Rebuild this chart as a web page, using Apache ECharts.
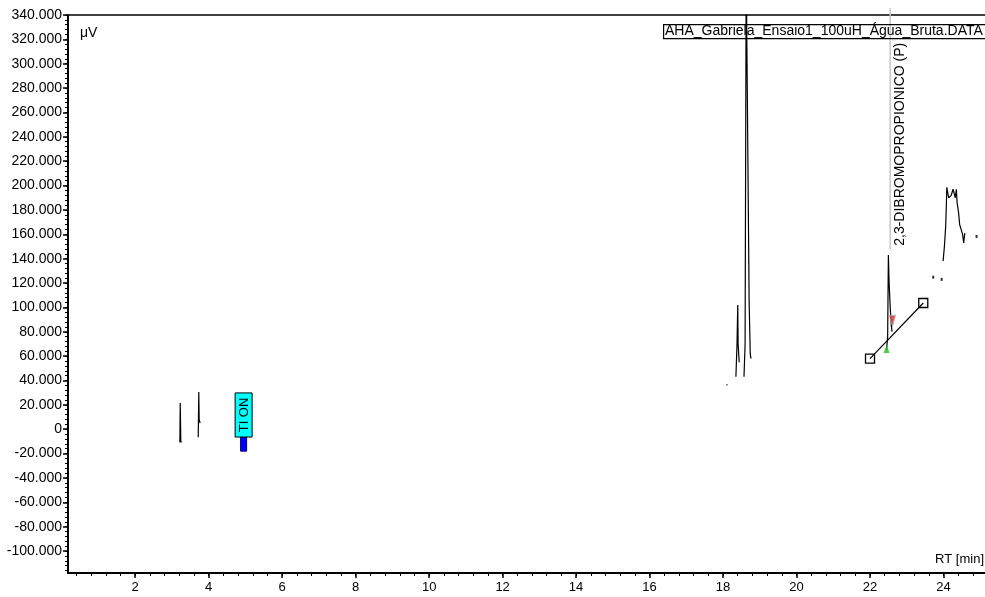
<!DOCTYPE html>
<html>
<head>
<meta charset="utf-8">
<script src="https://cdn.jsdelivr.net/npm/echarts@6/dist/echarts.min.js"></script>
<style>html,body{margin:0;padding:0;background:#fff}#c{width:985px;height:597px}</style>
</head>
<body>
<div id="c"></div>
<script>
// ---- data ----
var xTickLabels = [2, 4, 6, 8, 10, 12, 14, 16, 18, 20, 22, 24];
var yTickLabels = [-100000, -80000, -60000, -40000, -20000, 0, 20000, 40000, 60000, 80000, 100000, 120000, 140000, 160000, 180000, 200000, 220000, 240000, 260000, 280000, 300000, 320000, 340000];
var traceTime  = [3.215, 3.225, 3.24, 3.25, null, 3.715, 3.73, 3.74, 3.765, null, 18.10, 18.115, null, 18.35, 18.38, 18.40, 18.41, 18.44, null, 18.57, 18.60, 18.63, 18.67, 18.71, 18.74, 18.76, null, 22.45, 22.48, 22.50, 22.52, 22.55, 22.58, 22.60, null, 23.99, 24.03, 24.06, 24.08, 24.09, 24.14, 24.21, 24.26, 24.32, 24.35, 24.37, 24.41, 24.44, 24.48, 24.52, 24.55, 24.58];
var traceValue = [-10700, 21500, -9000, -11000, null, -6600, 30500, 8000, 5000, null, 36000, 37000, null, 43000, 70000, 102000, 70000, 55000, null, 43000, 70000, 380000, 380000, 105000, 62000, 58000, null, 65000, 76000, 143000, 120000, 100000, 85000, 80000, null, 138000, 152000, 167000, 186000, 198600, 190000, 192000, 197000, 190000, 197000, 186000, 178000, 168000, 164000, 160000, 153000, 161000];
var dotTime  = [23.72, 23.95, 24.90];
var dotValue = [124800, 123000, 158200];
var baselineTime  = [22.0, 23.45];
var baselineValue = [58000, 103600];
var peakStartMarker = [22.45, 65800];
var peakEndMarker = [22.61, 88800];
var eventTime = 4.95, eventLabel = 'TI ON', eventTop = 29800, eventBottom = -6400, eventBarBottom = -18000;
var peakName = '2,3-DIBROMOPROPIONICO (P)', peakTime = 22.55, peakLabelValue = 147300;
var fileName = 'AHA_Gabriela_Ensaio1_100uH_Água_Bruta.DATA';

// ---- helpers ----
var X_MIN = 0.17, X_MAX = 25.13, Y_MIN = -118000, Y_MAX = 340000;
function fmtY(v){
  if (v === 0) return '0';
  var s = String(Math.abs(v)).replace(/\B(?=(\d{3})+(?!\d))/g, '.');
  return (v < 0 ? '-' : '') + s;
}
var xMinor = []; for (var t = 0.4; t < X_MAX; t += 0.4) xMinor.push(Math.round(t*10)/10);
var yMinor = []; for (var v = -116000; v <= Y_MAX; v += 4000) yMinor.push(v);

var traceData = traceTime.map(function(t, i){ return t === null ? null : [t, traceValue[i]]; });
var dotData = dotTime.map(function(t, i){ return [t, dotValue[i]]; });
var baselineData = baselineTime.map(function(t, i){ return [t, baselineValue[i]]; });

var FONT = 'Liberation Sans, Arial, sans-serif';
var chart = echarts.init(document.getElementById('c'), null, {renderer: 'canvas'});
chart.setOption({
  animation: false,
  backgroundColor: '#fff',
  grid: {left: 68, right: -4, top: 15, bottom: 24, show: false},
  xAxis: [{
    type: 'value', min: X_MIN, max: X_MAX, position: 'bottom',
    axisLine: {show: true, onZero: false, lineStyle: {color: '#000', width: 2}},
    axisTick: {show: true, customValues: xTickLabels, length: 5, lineStyle: {color: '#000', width: 1.5}},
    axisLabel: {customValues: xTickLabels, color: '#000', fontSize: 13, fontFamily: FONT, margin: 8},
    splitLine: {show: false}
  }, {
    type: 'value', min: X_MIN, max: X_MAX, position: 'bottom',
    axisLine: {show: false, onZero: false},
    axisTick: {show: true, customValues: xMinor, length: 3, lineStyle: {color: '#000', width: 1}},
    axisLabel: {show: false}, splitLine: {show: false}
  }, {
    type: 'value', min: X_MIN, max: X_MAX, position: 'top',
    axisLine: {show: true, onZero: false, lineStyle: {color: '#000', width: 1.5}},
    axisTick: {show: false}, axisLabel: {show: false}, splitLine: {show: false}
  }],
  yAxis: [{
    type: 'value', min: Y_MIN, max: Y_MAX, position: 'left',
    axisLine: {show: true, onZero: false, lineStyle: {color: '#000', width: 2}},
    axisTick: {show: true, customValues: yTickLabels, length: 5, lineStyle: {color: '#000', width: 1.5}},
    axisLabel: {customValues: yTickLabels, color: '#000', fontSize: 14, fontFamily: FONT, margin: 6, formatter: fmtY},
    splitLine: {show: false}
  }, {
    type: 'value', min: Y_MIN, max: Y_MAX, position: 'left',
    axisLine: {show: false, onZero: false},
    axisTick: {show: true, customValues: yMinor, length: 3, lineStyle: {color: '#000', width: 1}},
    axisLabel: {show: false}, splitLine: {show: false}
  }],
  series: [
    {
      type: 'line', data: traceData, showSymbol: false, connectNulls: false,
      lineStyle: {color: '#000', width: 1.2}, clip: true, z: 3
    },
    {
      type: 'scatter', data: dotData, symbol: 'rect', symbolSize: [2, 3],
      itemStyle: {color: '#000'}, z: 3
    },
    {
      type: 'line', data: baselineData, symbol: 'rect', symbolSize: 9, showSymbol: true,
      lineStyle: {color: '#000', width: 1.2},
      itemStyle: {color: 'rgba(255,255,255,0)', borderColor: '#000', borderWidth: 1.3}, z: 4
    },
    {
      type: 'scatter', data: [peakStartMarker], symbol: 'triangle', symbolSize: [6, 8],
      itemStyle: {color: '#22c022'}, z: 5
    },
    {
      type: 'scatter', data: [peakEndMarker], symbol: 'triangle', symbolRotate: 180, symbolSize: [6, 11],
      itemStyle: {color: '#ee2222', borderColor: '#aaa', borderWidth: 1}, z: 5
    },
    {
      type: 'custom', clip: false, z: 6,
      data: [[eventTime, eventTop, eventBottom, eventBarBottom]],
      renderItem: function(params, api){
        var top = api.coord([api.value(0), api.value(1)]);
        var bot = api.coord([api.value(0), api.value(2)]);
        var bar = api.coord([api.value(0), api.value(3)]);
        var w = 17, bw = 6;
        return {type: 'group', children: [
          {type: 'rect', shape: {x: top[0] - bw/2, y: bot[1], width: bw, height: bar[1] - bot[1]},
           style: {fill: '#0000ee', stroke: '#000080', lineWidth: 1}},
          {type: 'rect', shape: {x: top[0] - w/2, y: top[1], width: w, height: bot[1] - top[1]},
           style: {fill: '#00ffff', stroke: '#000', lineWidth: 1}},
          {type: 'text', x: top[0] + 0.5, y: (top[1] + bot[1]) / 2, rotation: Math.PI / 2,
           style: {text: eventLabel, fill: '#000', font: '13px ' + FONT, align: 'center', verticalAlign: 'middle'}}
        ]};
      }
    },
    {
      type: 'custom', clip: false, z: 2,
      data: [[peakTime, peakLabelValue]],
      renderItem: function(params, api){
        var p = api.coord([api.value(0), api.value(1)]);
        var topY = api.coord([api.value(0), Y_MAX])[1] - 7;
        return {type: 'group', children: [
          {type: 'line', shape: {x1: p[0], y1: p[1], x2: p[0], y2: topY}, style: {stroke: '#c8c8c8', lineWidth: 1.5}},
          {type: 'text', x: p[0] + 10, y: p[1] - 4, rotation: Math.PI / 2,
           style: {text: peakName, fill: '#000', font: '14px ' + FONT, align: 'left', verticalAlign: 'middle'}}
        ]};
      }
    }
  ],
  graphic: [
    {type: 'rect', left: 663, top: 24, shape: {x: 0, y: 0, width: 330, height: 14}, z: 10,
     style: {fill: 'rgba(0,0,0,0)', stroke: '#000', lineWidth: 1.2}},
    {type: 'text', x: 665, y: 31, z: 11,
     style: {text: fileName, fill: '#000', font: '14px ' + FONT, verticalAlign: 'middle'}},
    {type: 'text', x: 80, y: 33, z: 11,
     style: {text: 'μV', fill: '#000', font: '14px ' + FONT, verticalAlign: 'middle'}},
    {type: 'text', x: 984, y: 559, z: 11,
     style: {text: 'RT [min]', fill: '#000', font: '13px ' + FONT, align: 'right', verticalAlign: 'middle'}}
  ]
});
</script>
</body>
</html>
